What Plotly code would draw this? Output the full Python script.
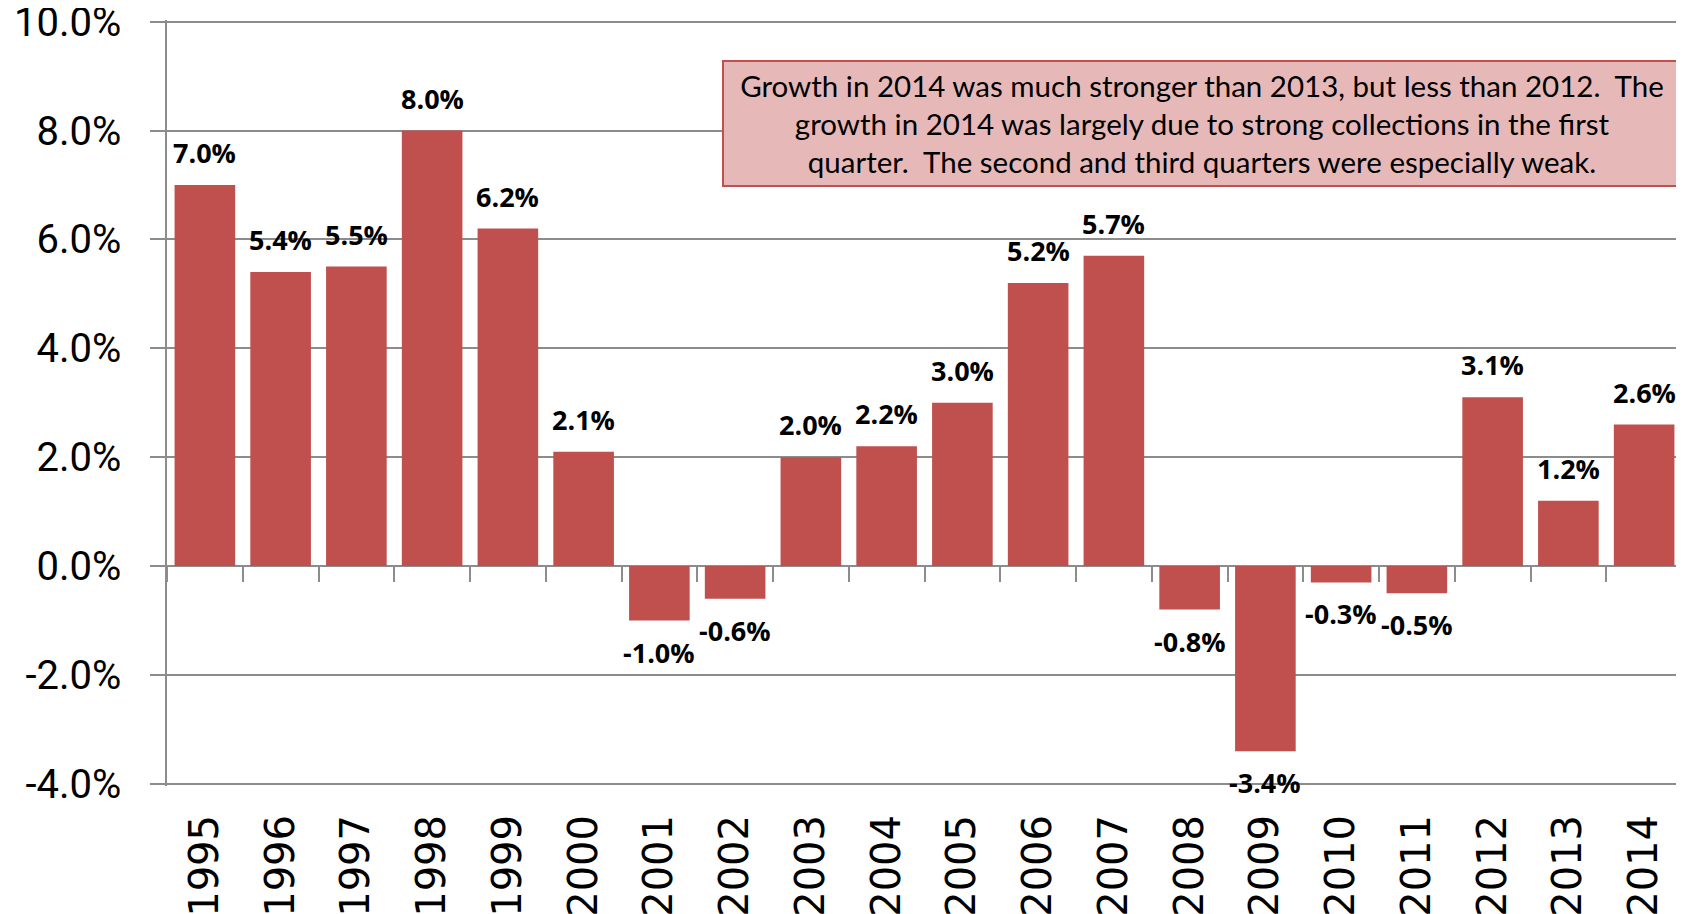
import plotly.graph_objects as go

years = ["1995", "1996", "1997", "1998", "1999", "2000", "2001", "2002", "2003", "2004",
         "2005", "2006", "2007", "2008", "2009", "2010", "2011", "2012", "2013", "2014"]
growth = [7.0, 5.4, 5.5, 8.0, 6.2, 2.1, -1.0, -0.6, 2.0, 2.2,
          3.0, 5.2, 5.7, -0.8, -3.4, -0.3, -0.5, 3.1, 1.2, 2.6]
labels = [f"{v:.1f}%" for v in growth]
y_tick_vals = [-4, -2, 0, 2, 4, 6, 8, 10]
y_tick_text = ["-4.0%", "-2.0%", "0.0%", "2.0%", "4.0%", "6.0%", "8.0%", "10.0%"]
note_lines = [
    "Growth in 2014 was much stronger than 2013, but less than 2012.\u00a0 The",
    "growth in 2014 was largely due to strong collections in the first",
    "quarter.\u00a0 The second and third quarters were especially weak.",
]

BAR = "#C0504D"
GRID = "#8C8C8C"
FONT = "Open Sans, sans-serif"
cat_range = [-0.5, len(years) - 0.5]

fig = go.Figure()
fig.add_bar(x=years, y=growth, marker=dict(color=BAR, line=dict(width=0)),
            hoverinfo="skip", showlegend=False)
# invisible trace on overlay axis that draws the category tick marks on the zero line
fig.add_scatter(x=years, y=growth, xaxis="x2", mode="markers",
                marker=dict(opacity=0), hoverinfo="skip", showlegend=False)

for i, (v, t) in enumerate(zip(growth, labels)):
    fig.add_annotation(
        x=i, y=v, text=f"<b>{t}</b>", showarrow=False,
        yanchor="bottom" if v >= 0 else "top",
        yshift=12 if v >= 0 else -11,
        font=dict(family=FONT, size=27, color="black"),
    )

fig.add_annotation(
    xref="paper", yref="paper", x=1.0, y=0.948, xanchor="right", yanchor="top",
    text="<br>".join(note_lines), showarrow=False, align="center",
    width=952, height=119, bgcolor="#E6B9B8", bordercolor=BAR, borderwidth=2, borderpad=2,
    font=dict(family="Lato, Open Sans, sans-serif", size=29.5, color="black"),
)

fig.update_layout(
    width=1676, height=906,
    margin=dict(l=159, r=2, t=12, b=128),
    paper_bgcolor="white", plot_bgcolor="white",
    bargap=0.2, showlegend=False, hovermode=False,
    xaxis=dict(type="category", range=cat_range, automargin=False,
               showgrid=False, showline=False, zeroline=False,
               ticks="", tickangle=-90, ticklabelstandoff=20,
               tickfont=dict(family="DejaVu Sans", size=40, color="black")),
    xaxis2=dict(type="category", range=cat_range, overlaying="x", anchor="free",
                position=4.04 / 14.07, side="bottom", automargin=False,
                showline=False, showgrid=False, zeroline=False,
                ticks="outside", ticklen=15, tickwidth=1.5, tickcolor=GRID,
                tickson="boundaries", showticklabels=False),
    yaxis=dict(range=[-4.04, 10.03], tickvals=y_tick_vals, ticktext=y_tick_text,
               automargin=False,
               showgrid=True, gridcolor=GRID, gridwidth=1.5,
               zeroline=True, zerolinecolor=GRID, zerolinewidth=1.5,
               showline=True, linecolor=GRID, linewidth=1.5,
               ticks="outside", ticklen=15, tickcolor=GRID, tickwidth=1.5,
               ticklabelstandoff=21, ticklabeloverflow="allow",
               tickfont=dict(family="Roboto, Open Sans, sans-serif", size=40, color="black")),
)

fig.write_html("out.html")
